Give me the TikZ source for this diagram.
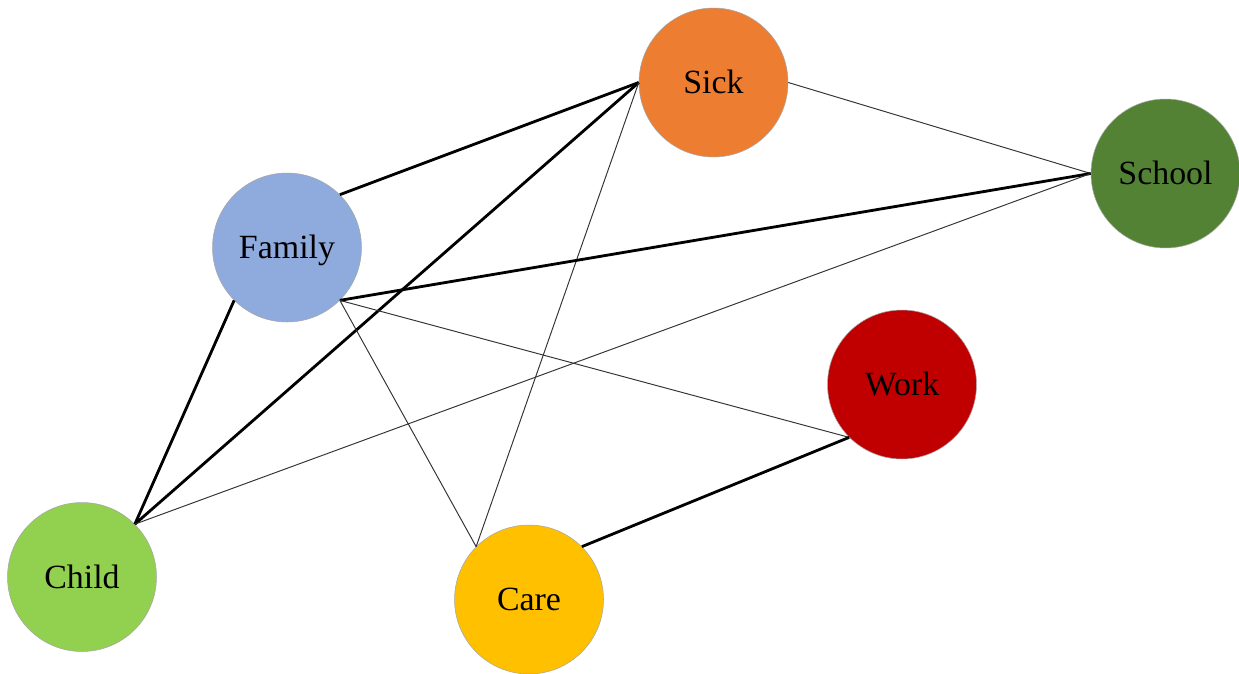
\documentclass[tikz,border=0pt]{standalone}
\usepackage{fontspec}
\setmainfont{Liberation Serif}
\usepackage{tikz}
\usetikzlibrary{shapes.geometric}
\definecolor{sickorange}{HTML}{ED7D31}
\definecolor{schoolgreen}{HTML}{548235}
\definecolor{familyblue}{HTML}{8FAADC}
\definecolor{workred}{HTML}{C00000}
\definecolor{childgreen}{HTML}{92D050}
\definecolor{careyellow}{HTML}{FFC000}
\tikzstyle{factor} = [circle, minimum size=2.98cm, inner sep=0pt, draw=gray!70, line width=0.3pt, text centered, text height=12.7pt, text depth=0pt, font=\fontsize{19.3}{23}\selectfont]
\tikzstyle{strong} = [line width=1.6pt, black]
\tikzstyle{weak} = [line width=0.55pt, black!80]

\begin{document}
\begin{tikzpicture}[x=0.02cm, y=-0.02cm]

\useasboundingbox (0,0) rectangle (1239,673);

\node (sick) [factor, fill=sickorange] at (713.5,82.5) {Sick};
\node (school) [factor, fill=schoolgreen] at (1165.5,173.5) {School};
\node (family) [factor, fill=familyblue] at (287,247.5) {Family};
\node (work) [factor, fill=workred] at (902,384.5) {Work};
\node (child) [factor, fill=childgreen] at (82,577) {Child};
\node (care) [factor, fill=careyellow] at (529,599.5) {Care};

\draw [strong] (sick.west) -- (family.north east);
\draw [strong] (sick.west) -- (child.north east);
\draw [weak] (sick.west) -- (care.north west);
\draw [weak] (sick.east) -- (school.west);
\draw [strong] (family.south east) -- (school.west);
\draw [strong] (family.south west) -- (child.north east);
\draw [weak] (family.south east) -- (work.south west);
\draw [weak] (family.south east) -- (care.north west);
\draw [weak] (child.north east) -- (school.west);
\draw [strong] (care.north east) -- (work.south west);

\end{tikzpicture}
\end{document}
